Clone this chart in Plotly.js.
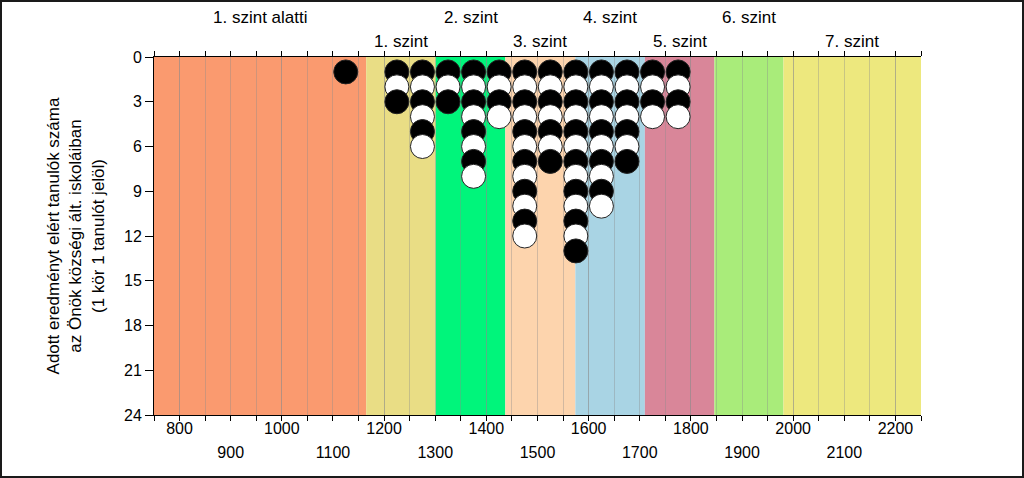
<!DOCTYPE html>
<html>
<head>
<meta charset="utf-8">
<script src="https://cdn.plot.ly/plotly-3.0.1.min.js"></script>
<style>
  html, body { margin: 0; padding: 0; background: #fff; }
  #wrap { position: relative; width: 1024px; height: 478px; overflow: hidden; }
  #chart { width: 1024px; height: 478px; }
  #frame { position: absolute; left: 0; top: 0; width: 1024px; height: 478px; box-sizing: border-box; border: 2px solid #1a1a1a; pointer-events: none; }
</style>
</head>
<body>
<div id="wrap"><div id="chart"></div><div id="frame"></div></div>
<script>
// Level bands (score boundaries), colours and names
const levelBounds = [750, 1165, 1301, 1437, 1574, 1710, 1846, 1981, 2250];
const levelColors = ['#FA9A6F', '#E9DD85', '#00F57B', '#FDD4AD', '#A9D4E4', '#D98699', '#A9EC7A', '#EDE87E'];
const levelNames = ['1. szint alatti', '1. szint', '2. szint', '3. szint', '4. szint', '5. szint', '6. szint', '7. szint'];

// Columns of students: score position and number of students
const colX = [1125, 1225, 1275, 1325, 1375, 1425, 1475, 1525, 1575, 1625, 1675, 1725, 1775];
const colCount = [1, 3, 6, 3, 8, 4, 12, 7, 13, 10, 7, 4, 4];

// Tick labels
const xTicksUpper = [800, 1000, 1200, 1400, 1600, 1800, 2000, 2200];
const xTicksLower = [900, 1100, 1300, 1500, 1700, 1900, 2100];
const yTicks = [0, 3, 6, 9, 12, 15, 18, 21, 24];

const yTitle = 'Adott eredményt elért tanulók száma<br>az Önök községi ált. iskoláiban<br>(1 kör 1 tanulót jelöl)';

const FONT = 'Liberation Sans, Arial, sans-serif';

// Build points (stacked circles, alternating black/white)
const px = [], py = [], pc = [];
colX.forEach((x, i) => {
  for (let k = 1; k <= colCount[i]; k++) {
    px.push(x); py.push(k); pc.push(k % 2 === 1 ? '#000000' : '#ffffff');
  }
});

const shapes = levelColors.map((c, i) => ({
  type: 'rect', xref: 'x', yref: 'paper',
  x0: levelBounds[i], x1: levelBounds[i + 1], y0: 0, y1: 1,
  fillcolor: c, line: { width: 0 }, layer: 'below'
}));

const annotations = levelNames.map((n, i) => ({
  text: n, xref: 'x', yref: 'paper',
  x: (levelBounds[i] + levelBounds[i + 1]) / 2,
  y: i % 2 === 0 ? 1.1117 : 1.0419,
  yanchor: 'middle', xanchor: 'center', showarrow: false,
  font: { family: FONT, size: 17, color: '#000' }
}));

const traces = [
  {
    type: 'scatter', mode: 'markers', x: px, y: py, xaxis: 'x', yaxis: 'y',
    marker: { size: 24, color: pc, line: { color: '#222', width: 1 } },
    hoverinfo: 'skip', cliponaxis: false, showlegend: false
  },
  { type: 'scatter', mode: 'markers', x: [], y: [], xaxis: 'x2', yaxis: 'y', showlegend: false, hoverinfo: 'skip' }
];

const gridCol = 'rgba(140,140,140,0.38)';

const layout = {
  width: 1024, height: 478,
  margin: { l: 154, r: 103, t: 57, b: 63 },
  paper_bgcolor: '#fff', plot_bgcolor: '#fff',
  font: { family: FONT, size: 16, color: '#000' },
  showlegend: false,
  xaxis: {
    range: [750, 2250], tickmode: 'array', tickvals: xTicksUpper,
    ticktext: xTicksUpper.map(String),
    ticks: 'outside', ticklen: 5, tickcolor: '#000', tickwidth: 1,
    showline: true, linecolor: '#000', linewidth: 1, mirror: 'ticks',
    showgrid: true, gridcolor: gridCol, gridwidth: 1,
    zeroline: false, ticklabelstandoff: -6,
    minor: { tickmode: 'linear', tick0: 750, dtick: 50, ticks: 'outside', ticklen: 5, tickcolor: '#000',
             showgrid: true, gridcolor: gridCol, gridwidth: 1 },
    tickfont: { family: FONT, size: 16, color: '#000' }
  },
  xaxis2: {
    range: [750, 2250], overlaying: 'x', anchor: 'y', side: 'bottom',
    tickmode: 'array', tickvals: xTicksLower, ticktext: xTicksLower.map(String),
    ticks: '', showline: false, showgrid: false, zeroline: false,
    ticklabelstandoff: 26,
    tickfont: { family: FONT, size: 16, color: '#000' }
  },
  yaxis: {
    range: [24, 0], tickmode: 'array', tickvals: yTicks, ticktext: yTicks.map(String),
    ticks: 'outside', ticklen: 8, tickcolor: '#000',
    showline: true, linecolor: '#000', linewidth: 1,
    showgrid: false, zeroline: false,
    tickfont: { family: FONT, size: 16, color: '#000' },
    title: { text: yTitle, font: { family: FONT, size: 17, color: '#000' }, standoff: 15 }
  },
  shapes: shapes,
  annotations: annotations
};

Plotly.newPlot('chart', traces, layout, { staticPlot: true, displayModeBar: false });
</script>
</body>
</html>
